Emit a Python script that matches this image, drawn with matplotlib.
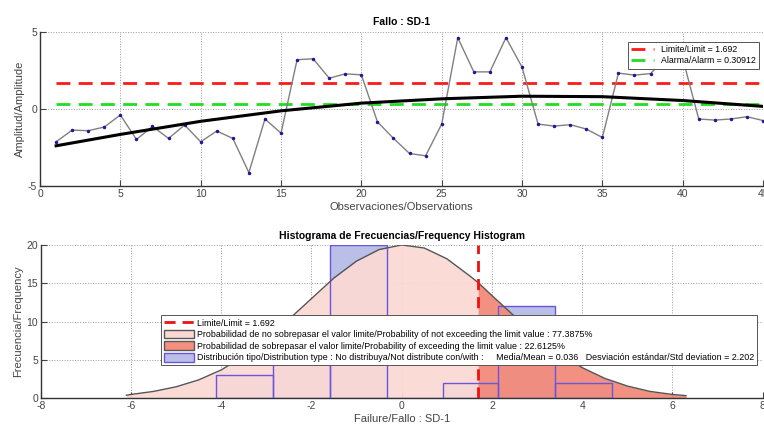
import numpy as np
import matplotlib
matplotlib.use('Agg')
import matplotlib.pyplot as plt
from matplotlib.patches import Patch
from matplotlib.lines import Line2D

plt.rcParams['font.family'] = ['Liberation Sans', 'DejaVu Sans']
plt.rcParams['axes.unicode_minus'] = False

# --- datos: grafico superior (observaciones) ---
obs_x = list(range(1, 46))
obs_y = [-2.13, -1.37, -1.41, -1.17, -0.39, -1.98, -1.13, -1.91, -1.04, -2.13,
         -1.43, -1.91, -4.13, -0.65, -1.57, 3.20, 3.26, 2.00, 2.28, 2.22,
         -0.83, -1.91, -2.89, -3.04, -0.98, 4.63, 2.41, 2.41, 4.63, 2.72,
         -0.98, -1.11, -1.02, -1.30, -1.85, 2.33, 2.20, 2.30, 3.35, 3.30,
         -0.65, -0.72, -0.65, -0.50, -0.75]
trend_x = [1, 5, 10, 15, 20, 25, 30, 35, 40, 45]
trend_y = [-2.39, -1.65, -0.80, -0.12, 0.38, 0.66, 0.83, 0.80, 0.55, 0.17]
limit = 1.692
alarm = 0.30912

# --- datos: histograma ---
hist_edges = [-4.11, -2.85, -1.60, -0.33, 0.92, 2.13, 3.40, 4.66]
hist_counts = [3, 6, 20, 0, 2, 12, 2]
curve_x = [-6.1, -6.0, -5.5, -5.0, -4.5, -4.0, -3.5, -3.0, -2.5, -2.0, -1.5, -1.0,
           -0.5, 0.0, 0.5, 1.0, 1.5, 1.692, 2.0, 2.5, 3.0, 3.5, 4.0, 4.5, 5.0,
           5.5, 6.0, 6.3]
curve_y = [0.4, 0.5, 0.9, 1.5, 2.4, 3.7, 5.5, 7.7, 10.3, 13.0, 15.7, 17.9,
           19.4, 20.0, 19.6, 18.2, 16.0, 15.1, 13.4, 10.7, 8.1, 5.8, 4.0, 2.6, 1.6,
           0.9, 0.5, 0.35]
mean_val = 0.036
std_val = 2.202
p_not = 77.3875
p_exc = 22.6125

tick_col = '#444444'
grid_kw = dict(color='#9a9a9a', linestyle=':', linewidth=0.7)


def style_axes(ax):
    for s in ['top', 'right']:
        ax.spines[s].set_visible(False)
    for s in ['left', 'bottom']:
        ax.spines[s].set_color('#333333')
        ax.spines[s].set_linewidth(1.0)
    ax.tick_params(direction='in', length=4, colors=tick_col, labelsize=7.5, pad=2)
    ax.grid(True, **grid_kw)
    ax.set_axisbelow(True)


fig = plt.figure(figsize=(7.64, 4.26), dpi=100)

# ---------- grafico superior ----------
ax1 = fig.add_axes([0.0524, 0.5634, 0.9463, 0.3615])
style_axes(ax1)
ax1.plot([1, 45], [limit, limit], color='#ff1a1a', lw=2, dashes=(5, 3),
         label=f'Limite/Limit = {limit}')
ax1.plot([1, 45], [alarm, alarm], color='#22dd22', lw=2, dashes=(5, 3),
         label=f'Alarma/Alarm = {alarm}')
ax1.plot(obs_x, obs_y, color='#808080', lw=1.0, marker='.', markersize=3,
         markerfacecolor='#1a1aa0', markeredgecolor='#1a1aa0', zorder=3)
ax1.plot(trend_x, trend_y, color='black', lw=2.2, zorder=4)
ax1.set_xlim(0, 45)
ax1.set_ylim(-5, 5)
ax1.set_xticks(range(0, 46, 5))
ax1.set_yticks([-5, 0, 5])
ax1.set_title('Fallo : SD-1', fontsize=7.5, fontweight='bold', pad=5)
ax1.set_xlabel('Observaciones/Observations', fontsize=8, color=tick_col, labelpad=2)
ax1.set_ylabel('Amplitud/Amplitude', fontsize=8, color=tick_col, labelpad=2)
leg1 = ax1.legend(loc='upper right', bbox_to_anchor=(1.0, 0.965), fontsize=6.3,
                  handlelength=2.6, borderpad=0.35, labelspacing=0.3,
                  fancybox=False, framealpha=1, edgecolor='#555555')
leg1.get_frame().set_linewidth(0.7)
leg1.set_zorder(10)

# ---------- histograma ----------
ax2 = fig.add_axes([0.0533, 0.065, 0.945, 0.36])
style_axes(ax2)
widths = np.diff(hist_edges)
bar_face = '#b9bfe6'
bar_edge = '#6a55dd'
ax2.bar(hist_edges[:-1], hist_counts, width=widths, align='edge',
        color=bar_face, edgecolor='none', zorder=1)
cx = np.array(curve_x)
cy = np.array(curve_y)
ax2.fill_between(cx, 0, cy, where=cx <= limit, color='#fbd9d4', alpha=0.94,
                 lw=0, zorder=2)
ax2.fill_between(cx, 0, cy, where=cx >= limit, color='#f28a7a', alpha=0.94,
                 lw=0, zorder=2)
ax2.bar(hist_edges[:-1], hist_counts, width=widths, align='edge',
        fill=False, edgecolor=bar_edge, lw=1.0, zorder=3)
ax2.plot(cx, cy, color='#555555', lw=1.0, zorder=4)
ax2.plot([limit, limit], [0, 20], color='#ee1111', lw=2, dashes=(4, 2.5), zorder=5)
ax2.set_xlim(-8, 8)
ax2.set_ylim(0, 20)
ax2.set_xticks(range(-8, 9, 2))
ax2.set_yticks([0, 5, 10, 15, 20])
ax2.set_title('Histograma de Frecuencias/Frequency Histogram', fontsize=7.5,
              fontweight='bold', pad=4)
ax2.set_xlabel('Failure/Fallo : SD-1', fontsize=8, color=tick_col, labelpad=2)
ax2.set_ylabel('Frecuencia/Frequency', fontsize=8, color=tick_col, labelpad=2)

handles = [
    Line2D([0], [0], color='#ee1111', lw=2, dashes=(4, 2.5)),
    Patch(facecolor='#fbd8d3', edgecolor='#555555', lw=1.0),
    Patch(facecolor='#f59080', edgecolor='#555555', lw=1.0),
    Patch(facecolor=bar_face, edgecolor=bar_edge, lw=1.0),
]
labels = [
    f'Limite/Limit = {limit}',
    f'Probabilidad de no sobrepasar el valor limite/Probability of not exceeding the limit value : {p_not}%',
    f'Probabilidad de sobrepasar el valor limite/Probability of exceeding the limit value : {p_exc}%',
    'Distribución tipo/Distribution type : No distribuya/Not distribute con/with :     '
    f'Media/Mean = {mean_val}   Desviación estándar/Std deviation = {std_val}',
]
leg2 = ax2.legend(handles, labels, loc='upper left', bbox_to_anchor=(0.16, 0.57),
                  fontsize=6.4, handlelength=3.4, handleheight=1.1,
                  borderpad=0.35, labelspacing=0.25, handletextpad=0.3,
                  fancybox=False, framealpha=1, edgecolor='#555555')
leg2.get_frame().set_linewidth(0.7)
leg2.set_zorder(10)

fig.savefig('out.png', dpi=100)
